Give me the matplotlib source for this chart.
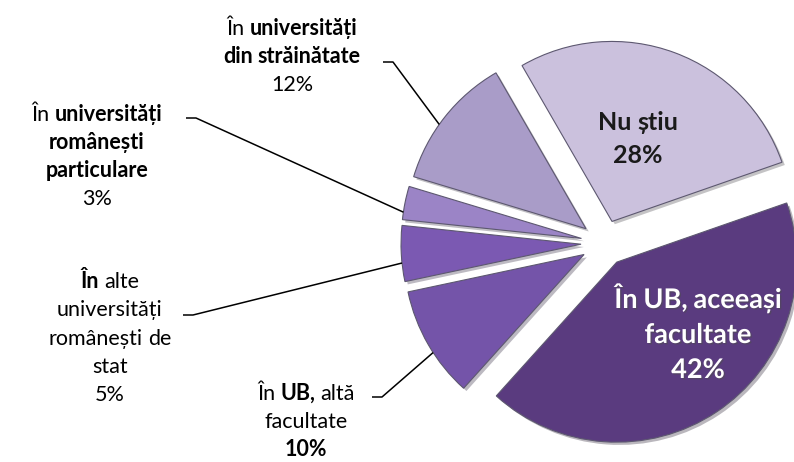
import numpy as np
import matplotlib.pyplot as plt
import matplotlib.patheffects as pe

plt.rcParams['font.family'] = ['Lato', 'DejaVu Sans']

W, H = 794, 462

# date
categories = ['Nu știu', 'În UB, aceeași facultate', 'În UB, altă facultate',
              'În alte universități românești de stat',
              'În universități românești particulare',
              'În universități din străinătate']
values = [28, 42, 10, 5, 3, 12]
colors = ['#cbc1dd', '#5a3b7f', '#7454a9', '#7b59b2', '#9b84c6', '#a99cc8']

# etichete (linii de text, cu greutatea fiecarei parti)
label_lines = {
    0: [[('Nu', 'bold'), ('știu', 'bold')], [('28%', 'bold')]],
    1: [[('În', 'bold'), ('UB,', 'bold'), ('aceeași', 'bold')], [('facultate', 'bold')], [('42%', 'bold')]],
    2: [[('În', 'normal'), ('UB,', 'bold'), ('altă', 'normal')], [('facultate', 'normal')], [('10%', 'bold')]],
    3: [[('În', 'bold'), ('alte', 'normal')], [('universități', 'normal')], [('românești', 'normal'), ('de', 'normal')],
        [('stat', 'normal')], [('5%', 'normal')]],
    4: [[('În', 'normal'), ('universități', 'bold')], [('românești', 'bold')], [('particulare', 'bold')], [('3%', 'normal')]],
    5: [[('În', 'normal'), ('universități', 'bold')], [('din', 'bold'), ('străinătate', 'bold')], [('12%', 'normal')]],
}

# pozitii etichete (x centru, baseline prima linie, pas intre linii, marime, culoare) in pixeli imagine
label_pos = {
    0: (638, 130, 33, 18, '#1a1a1a'),
    1: (698, 308, 35, 19.5, 'white'),
    2: (306, 400, 28, 15.5, 'black'),
    3: (110, 288, 28.3, 15.5, 'black'),
    4: (97, 121, 28, 15.5, 'black'),
    5: (292, 35, 28, 15.5, 'black'),
}
# capatul liniei de legatura langa text (x, y)
leader_start = {2: (372, 397), 3: (183, 315), 4: (186, 118), 5: (383, 62)}

fig = plt.figure(figsize=(W / 100, H / 100), dpi=100)
ax = fig.add_axes([0, 0, 1, 1])

R = 180
cx, cy = 604, H - 243
wedges, _ = ax.pie(values, colors=colors, startangle=120, counterclock=False,
                   radius=R, center=(cx, cy), explode=[23] * len(values),
                   wedgeprops=dict(linewidth=0.8, edgecolor='#5d5870'))
for w in wedges:
    w.set_path_effects([pe.SimplePatchShadow(offset=(2, -2), alpha=0.3), pe.Normal()])

ax.set_xlim(0, W)
ax.set_ylim(0, H)
ax.axis('off')

renderer = fig.canvas.get_renderer()


def rich_line(x, y, parts, size, color):
    texts = [ax.text(0, H - y, s, fontsize=size, fontweight=wt, color=color,
                     ha='left', va='baseline') for s, wt in parts]
    widths = [t.get_window_extent(renderer).width for t in texts]
    gap = size * 0.3
    total = sum(widths) + gap * (len(parts) - 1)
    x0 = x - total / 2
    for t, wd in zip(texts, widths):
        t.set_x(x0)
        x0 += wd + gap
    return texts


for i, lines in label_lines.items():
    x, y0, step, size, color = label_pos[i]
    for k, parts in enumerate(lines):
        txt = rich_line(x, y0 + k * step, parts, size, color)
        if i == 1:
            for t in txt:
                t.set_path_effects([pe.withSimplePatchShadow(offset=(1, -1), alpha=0.5)])

# linii de legatura
for i, (sx, sy) in leader_start.items():
    w = wedges[i]
    ang = np.deg2rad((w.theta1 + w.theta2) / 2 + 3)
    ex = w.center[0] + w.r * np.cos(ang)
    ey = w.center[1] + w.r * np.sin(ang)
    ax.plot([sx, sx + 10, ex], [H - sy, H - sy, ey], color='black', lw=1.1,
            solid_capstyle='butt')

fig.savefig('out.png', dpi=100)
